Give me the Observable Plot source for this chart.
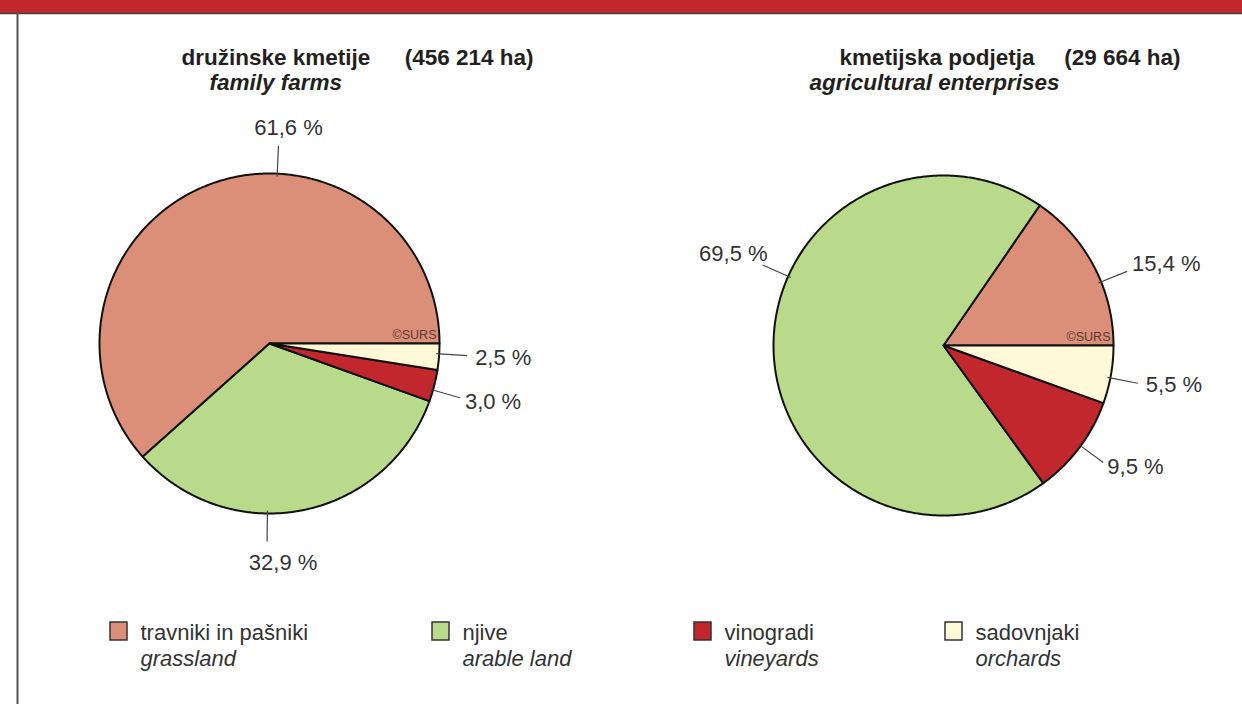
<!DOCTYPE html>
<html>
<head>
<meta charset="utf-8">
<script src="https://cdn.jsdelivr.net/npm/d3@7"></script>
<script src="https://cdn.jsdelivr.net/npm/@observablehq/plot@0.6"></script>
<style>
  html, body { margin: 0; padding: 0; background: #fff; }
  #chart svg { display: block; }
</style>
</head>
<body>
<div id="chart"></div>
<script>
// ---------------- DATA ----------------
const categories   = ["travniki in pašniki", "njive", "vinogradi", "sadovnjaki"];
const categoriesEn = ["grassland", "arable land", "vineyards", "orchards"];
const familyFarms  = [61.6, 32.9, 3.0, 2.5];   // % of 456 214 ha
const enterprises  = [15.4, 69.5, 9.5, 5.5];   // % of 29 664 ha
const pieNames     = ["družinske kmetije", "kmetijska podjetja"];
const pieAreas     = ["(456 214 ha)", "(29 664 ha)"];
const pieSubtitles = ["family farms", "agricultural enterprises"];
const credit = "©SURS";

// ---------------- STYLE / LAYOUT ----------------
const colors = ["#DB8F78", "#B9DA8B", "#C1272D", "#FFF9D7"];
const W = 1242, H = 704, R = 170;
const FONT = "'Liberation Sans', Arial, Helvetica, sans-serif";
const pies = [
  { values: familyFarms, cx: 269, cy: 343, titleX: 181, areaEnd: 533, subX: 209,
    labels: [
      { angle: 87.4,  dx: 10, dy: -18, anchor: "middle" },
      { angle: 269.3, dx: 16, dy: 21,  anchor: "middle" },
      { angle: -15.9, dx: 5,  dy: 4,   anchor: "start" },
      { angle: -3.5,  dx: 8,  dy: 2,   anchor: "start" }
    ] },
  { values: enterprises, cx: 943, cy: 345, titleX: 839, areaEnd: 1180, subX: 809,
    labels: [
      { angle: 22,    dx: 5, dy: -7,  anchor: "start" },
      { angle: 156,   dx: 5, dy: -11, anchor: "end" },
      { angle: -36.2, dx: 4, dy: 5,   anchor: "start" },
      { angle: -11,   dx: 8, dy: 2,   anchor: "start" }
    ] }
];
const legendX = [110, 432, 694, 945];
const legendY = 622;

// ---------------- GEOMETRY FROM DATA ----------------
const pt = (p, r, deg) => {
  const a = deg * Math.PI / 180;
  return [p.cx + r * Math.cos(a), p.cy - r * Math.sin(a)];
};
const slicePts = [];
const leaders = [];
const labels = [];
pies.forEach((p, pi) => {
  const total = d3.sum(p.values);
  let start = 0;
  p.values.forEach((v, i) => {
    const span = v / total * 360;
    const end = start + span;
    const key = pi + "-" + i;
    slicePts.push({ key, cat: categories[i], x: p.cx, y: p.cy });
    const n = Math.max(2, Math.ceil(span / 0.5));
    for (let k = 0; k <= n; k++) {
      const [x, y] = pt(p, R, start + span * k / n);
      slicePts.push({ key, cat: categories[i], x, y });
    }
    slicePts.push({ key, cat: categories[i], x: p.cx, y: p.cy });
    start = end;
    const L = p.labels[i];
    const [x1, y1] = pt(p, R - 3, L.angle);
    const [x2, y2] = pt(p, R + 28, L.angle);
    leaders.push({ x1, y1, x2, y2 });
    labels.push({ x: x2 + L.dx, y: y2 + L.dy, anchor: L.anchor,
                  text: v.toFixed(1).replace(".", ",") + " %" });
  });
});
const names = pies.map((p, i) => ({ x: p.titleX, y: 57, text: pieNames[i] }));
const areas = pies.map((p, i) => ({ x: p.areaEnd, y: 57, text: pieAreas[i] }));
const subtitles = pies.map((p, i) => ({ x: p.subX, y: 82, text: pieSubtitles[i] }));
const credits = pies.map(p => ({ x: p.cx + R - 3, y: p.cy - 9, text: credit }));
const legend = categories.map((c, i) => ({ cat: c, en: categoriesEn[i], x: legendX[i] }));

const chart = Plot.plot({
  width: W, height: H, margin: 0,
  x: { domain: [0, W], range: [0, W], axis: null },
  y: { domain: [0, H], range: [0, H], axis: null },
  color: { domain: categories, range: colors },
  style: { fontFamily: FONT, background: "#fff" },
  marks: [
    // frame
    Plot.rect([0], { x1: 0, x2: W, y1: 0, y2: 13, fill: "#C1272D" }),
    Plot.ruleY([13], { x1: 0, x2: W, stroke: "#444", strokeWidth: 1.5 }),
    Plot.ruleX([17], { y1: 13, y2: H, stroke: "#555", strokeWidth: 2 }),
    // pies
    Plot.line(slicePts, { x: "x", y: "y", z: "key", fill: "cat", stroke: "#111",
      strokeWidth: 2, strokeLinejoin: "round", curve: "linear" }),
    Plot.text(credits, { x: "x", y: "y", text: "text", textAnchor: "end", fontSize: 12.5, fill: "#5a3a33" }),
    // leaders + labels
    Plot.link(leaders, { x1: "x1", y1: "y1", x2: "x2", y2: "y2", stroke: "#444", strokeWidth: 1.2 }),
    Plot.text(labels.filter(d => d.anchor === "middle"), { x: "x", y: "y", text: "text", textAnchor: "middle", fontSize: 22, fill: "#333" }),
    Plot.text(labels.filter(d => d.anchor === "start"), { x: "x", y: "y", text: "text", textAnchor: "start", fontSize: 22, fill: "#333" }),
    Plot.text(labels.filter(d => d.anchor === "end"), { x: "x", y: "y", text: "text", textAnchor: "end", fontSize: 22, fill: "#333" }),
    // titles
    Plot.text(names, { x: "x", y: "y", text: "text", textAnchor: "start", fontSize: 22.5, fontWeight: "bold", fill: "#231f20" }),
    Plot.text(areas, { x: "x", y: "y", text: "text", textAnchor: "end", fontSize: 22.5, fontWeight: "bold", fill: "#231f20" }),
    Plot.text(subtitles, { x: "x", y: "y", text: "text", textAnchor: "start", fontSize: 22.5, fontWeight: "bold", fontStyle: "italic", fill: "#231f20" }),
    // legend
    Plot.rect(legend, { x1: "x", x2: d => d.x + 17, y1: legendY, y2: legendY + 18, fill: "cat", stroke: "#333", strokeWidth: 1.5 }),
    Plot.text(legend, { x: d => d.x + 30, y: legendY + 10, text: "cat", textAnchor: "start", fontSize: 22, fill: "#333" }),
    Plot.text(legend, { x: d => d.x + 30, y: legendY + 36, text: "en", textAnchor: "start", fontSize: 22, fontStyle: "italic", fill: "#333" })
  ]
});
document.getElementById("chart").appendChild(chart);
</script>
</body>
</html>
